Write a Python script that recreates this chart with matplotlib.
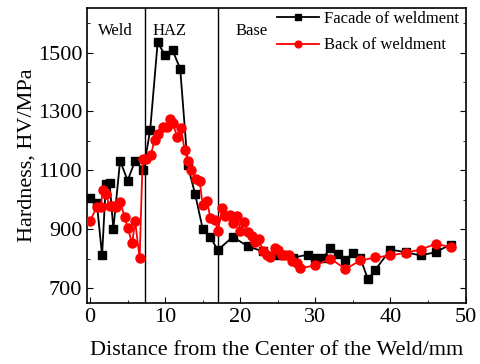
import numpy as np
import matplotlib
matplotlib.use("Agg")
import matplotlib.pyplot as plt
from matplotlib.ticker import MultipleLocator

plt.rcParams['font.family'] = ['Liberation Serif', 'DejaVu Serif']
plt.rcParams['mathtext.fontset'] = 'stix'

# Facade of weldment (black squares)
x_face = [0, 0.9, 1.6, 2.1, 2.6, 3.1, 4.0, 5.0, 6.0, 7.1, 8.0, 9.0, 10.0, 11.0,
          12.0, 13.0, 14.0, 15.0, 16.0, 17.0, 19.0, 21.0, 23.0, 25.0, 27.0,
          29.0, 30.0, 31.0, 32.0, 33.0, 34.0, 35.0, 36.0, 37.0, 38.0, 40.0,
          42.0, 44.0, 46.0, 48.0]
y_face = [1007, 989, 811, 1054, 1057, 901, 1133, 1065, 1133, 1102, 1236, 1535,
          1490, 1507, 1445, 1117, 1018, 901, 874, 829, 874, 842, 825, 814, 803,
          814, 801, 801, 837, 817, 794, 820, 801, 730, 763, 831, 822, 811, 822,
          848]

# Back of weldment (red circles)
x_back = [0, 0.9, 1.4, 1.7, 2.1, 2.6, 3.1, 3.5, 4.0, 4.6, 5.0, 5.6, 6.0, 6.6,
          7.0, 7.5, 8.1, 8.6, 9.1, 9.7, 10.2, 10.6, 11.0, 11.6, 12.1, 12.6,
          13.0, 13.5, 14.1, 14.6, 15.0, 15.6, 16.0, 16.6, 17.0, 17.6, 18.0,
          18.6, 19.0, 19.6, 20.0, 20.5, 21.0, 21.5, 22.0, 22.5, 23.0, 23.6,
          24.0, 24.6, 25.0, 25.5, 26.0, 26.5, 26.9, 27.5, 28.0, 30, 32, 34,
          36, 38, 40, 42, 44, 46, 48]
y_back = [929, 975, 975, 1032, 1018, 980, 978, 975, 993, 942, 905, 852, 927,
          801, 1140, 1139, 1153, 1204, 1224, 1247, 1247, 1274, 1261, 1213,
          1244, 1168, 1133, 1102, 1071, 1063, 981, 995, 939, 933, 895, 972,
          944, 950, 922, 944, 895, 924, 891, 876, 856, 867, 825, 814, 806,
          835, 831, 811, 811, 814, 792, 786, 768, 777, 800, 765, 794, 804,
          811, 820, 831, 850, 840]

# zone boundaries
weld_edge = 7.25
haz_edge = 17.0

fig = plt.figure(figsize=(4.81, 3.64), dpi=100)
ax = fig.add_axes([0.181, 0.168, 0.787, 0.809])

ax.plot(x_face, y_face, '-', color='black', lw=1.3, marker='s', ms=5.8,
        label='Facade of weldment', zorder=3)
ax.plot(x_back, y_back, '-', color='red', lw=1.3, marker='o', ms=6.5,
        label='Back of weldment', zorder=4)

ax.axvline(weld_edge, color='black', lw=1)
ax.axvline(haz_edge, color='black', lw=1)

ax.text(1.0, 1573, 'Weld', fontsize=12, va='center')
ax.text(8.3, 1573, 'HAZ', fontsize=12, va='center')
ax.text(19.3, 1573, 'Base', fontsize=12, va='center')

ax.set_xlim(-0.4, 50)
ax.set_ylim(650, 1650)
ax.xaxis.set_major_locator(MultipleLocator(10))
ax.xaxis.set_minor_locator(MultipleLocator(5))
ax.set_yticks([700, 900, 1100, 1300, 1500])
ax.yaxis.set_minor_locator(MultipleLocator(100))
ax.tick_params(which='both', direction='in', right=True, top=False,
               labelsize=16)
ax.tick_params(which='major', length=4)
ax.tick_params(which='minor', length=2.5)

ax.set_xlabel('Distance from the Center of the Weld/mm', fontsize=16,
              labelpad=10)
ax.set_ylabel('Hardness, HV/MPa', fontsize=16, labelpad=1)

for s in ax.spines.values():
    s.set_linewidth(1.2)

ax.legend(loc='upper right', frameon=False, fontsize=12, handlelength=2.5,
          handletextpad=0.3, labelspacing=0.65, borderaxespad=0.0,
          markerscale=0.75, bbox_to_anchor=(1.0, 1.015))

fig.savefig('out.png', dpi=100)
